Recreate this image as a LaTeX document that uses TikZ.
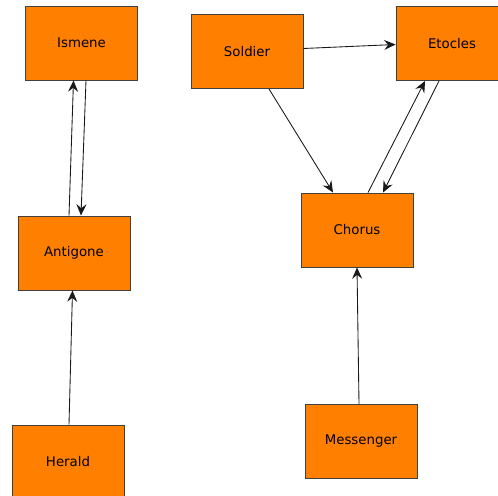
\documentclass[tikz,border=0pt]{standalone}
\usepackage{fontspec}
\setmainfont{DejaVu Sans}
\usepackage{tikz}
\usepackage{xcolor}
\usetikzlibrary{arrows.meta, positioning, calc}
\definecolor{roleorange}{RGB}{255,128,0}
\tikzset{
	role/.style={rectangle, draw=black!75, line width=0.7pt, fill=roleorange,
		minimum width=84pt, minimum height=55.5pt, inner sep=0pt,
		font=\fontsize{10}{12}\selectfont},
	arrow/.style={-{Stealth[length=8.5pt, width=7.5pt, inset=3pt]}, line width=0.65pt, draw=black!90},
}

\begin{document}
\begin{tikzpicture}[x=0.75pt, y=-0.75pt]
	\useasboundingbox (0,0) rectangle (498,495);
	% left column
	\node[role](ismene) at (81.5,43){Ismene};
	\node[role](antigone) at (74,253){Antigone};
	\node[role](herald) at (68,462){Herald};
	% right group
	\node[role](soldier) at (247,51.5){Soldier};
	\node[role](etocles) at (452,43.5){Etocles};
	\node[role](chorus) at (357,230){Chorus};
	\node[role](messenger) at (361,441.5){Messenger};
	\draw[arrow]($(antigone.north)+(-5,0)$)--($(ismene.south)+(-8,0)$);
	\draw[arrow]($(ismene.south)+(4.5,0)$)--($(antigone.north)+(7,0)$);
	\draw[arrow]($(herald.north)+(1,0)$)--($(antigone.south)+(-1.5,0)$);
	\draw[arrow]($(soldier.east)+(0,-3)$)--($(etocles.west)+(0,1)$);
	\draw[arrow]($(soldier.south)+(22,0)$)--($(chorus.north)+(-24,0)$);
	\draw[arrow]($(chorus.north)+(11,0)$)--($(etocles.south)+(-27,0)$);
	\draw[arrow]($(etocles.south)+(-13,0)$)--($(chorus.north)+(26,0)$);
	\draw[arrow]($(messenger.north)+(-2,0)$)--(chorus.south);
\end{tikzpicture}
\end{document}
